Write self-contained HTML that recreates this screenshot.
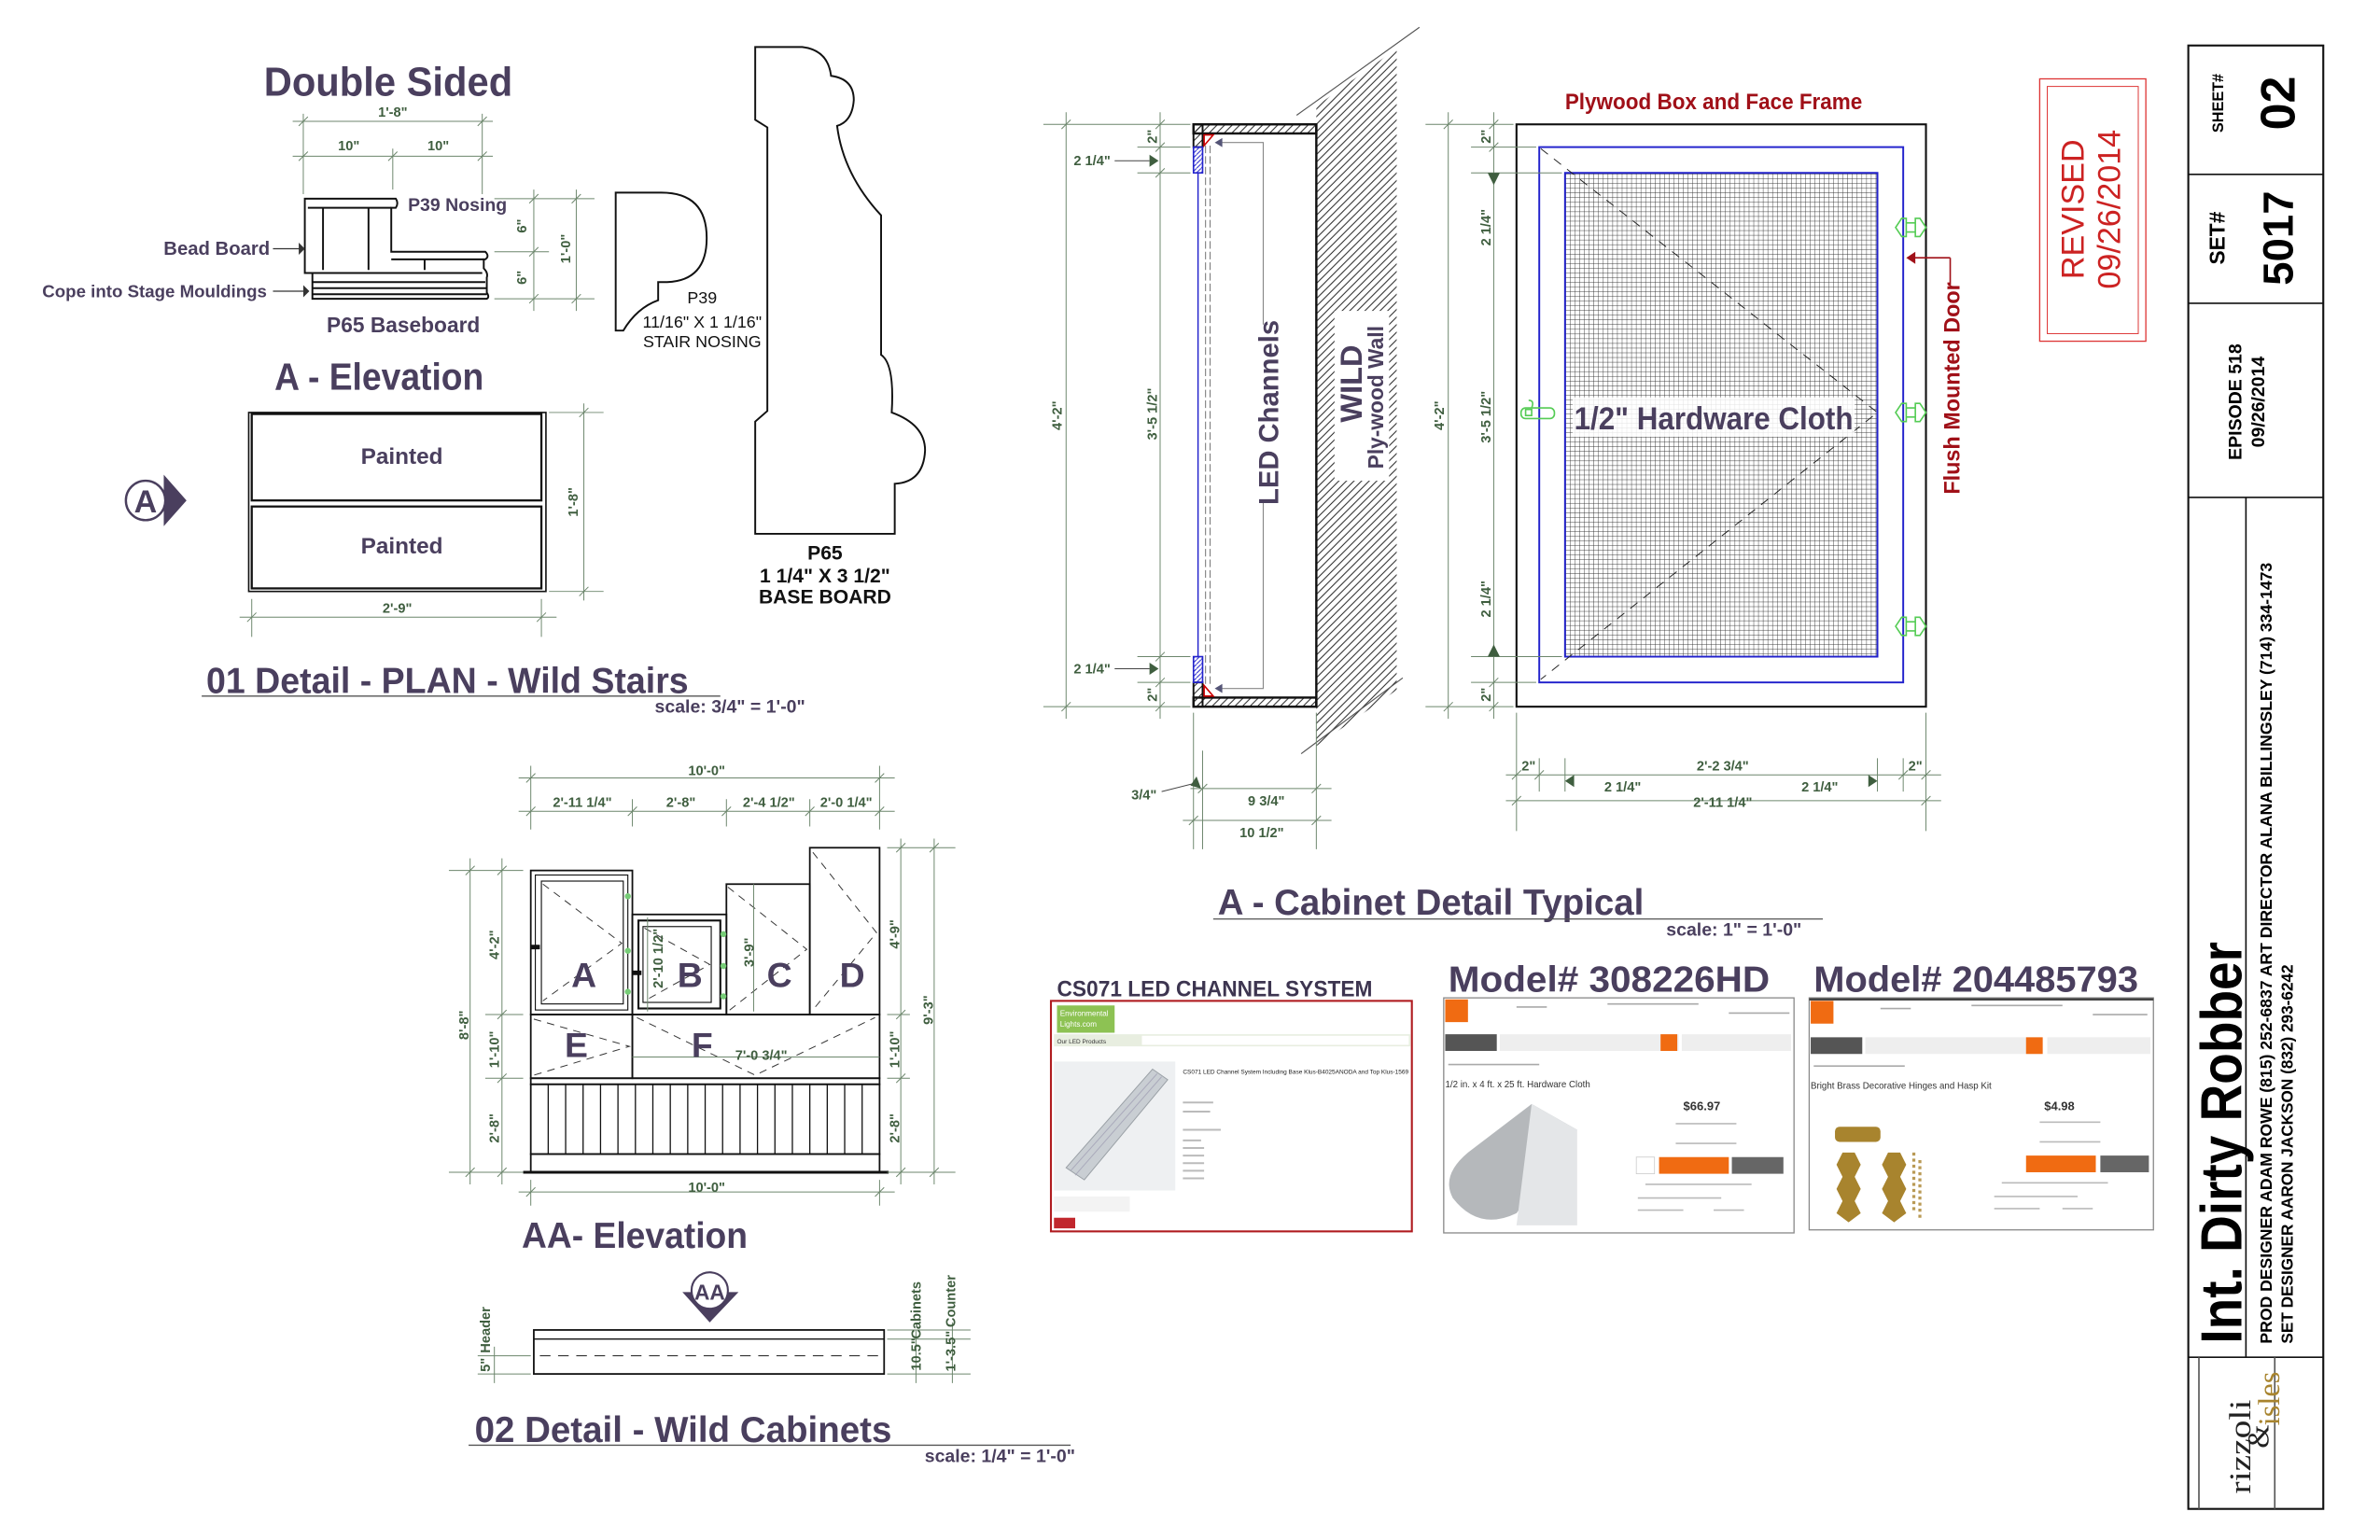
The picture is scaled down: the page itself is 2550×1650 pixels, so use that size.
<!DOCTYPE html>
<html><head><meta charset="utf-8"><style>
html,body{margin:0;padding:0;background:#fff;}
svg{display:block;}
.h{font-family:"Liberation Sans",sans-serif;font-weight:bold;fill:#4a3f5e;}
.d{font-family:"Liberation Sans Narrow","Liberation Sans",sans-serif;fill:#3f5e3f;font-size:9px;font-weight:bold;}
.dl{stroke:#6c866c;stroke-width:0.6;fill:none;}
.k{stroke:#111;fill:none;stroke-width:1.2;}
.a{font-family:"Liberation Sans",sans-serif;fill:#111;}
.n{font-family:"Liberation Sans Narrow","Liberation Sans",sans-serif;}
</style></head><body>
<svg width="2550" height="1650" viewBox="0 0 1569.4 1015.5" preserveAspectRatio="none" xmlns="http://www.w3.org/2000/svg">
<defs>
<pattern id="hatch" patternUnits="userSpaceOnUse" width="5" height="5"><path d="M-1,6 L6,-1 M-1,1 L1,-1 M4,6 L6,4" stroke="#222" stroke-width="0.6"/></pattern>
<pattern id="mesh" patternUnits="userSpaceOnUse" width="3.1" height="3.1"><path d="M0,0 H3.1 M0,0 V3.1" stroke="#333" stroke-width="0.55"/></pattern>
<pattern id="hb" patternUnits="userSpaceOnUse" width="3" height="3"><path d="M-1,4 L4,-1" stroke="#22c" stroke-width="0.6"/></pattern>
</defs>
<rect width="1570" height="1016" fill="#fff"/>

<!-- ===== Section 01 ===== -->
<text class="h" x="256" y="63" font-size="27" text-anchor="middle" textLength="164" lengthAdjust="spacingAndGlyphs">Double Sided</text>
<g class="dl">
<path d="M193,80 H325 M193,103 H325 M200,75 V128 M259,98 V125 M318,75 V128"/>
<path d="M197,83 L203,77 M256,106 L262,100 M315,83 L321,77 M197,106 L203,100 M315,106 L321,100"/>
</g>
<text class="d" x="259" y="77" text-anchor="middle">1'-8"</text>
<text class="d" x="230" y="99" text-anchor="middle">10"</text>
<text class="d" x="289" y="99" text-anchor="middle">10"</text>
<!-- stair -->
<g class="k" stroke-width="1.1">
<path d="M201,176 V131 H261 Q263,134 261,137 H258 V166 H320 Q323,169 320,171 H319 V177 Q322,180 321,183 V193 Q323,196 321,197 H206 V180 H201 Z" fill="#fff"/>
<path d="M206,180 H318 M203,137 H258 M213,137 V178 M243,137 V178 M258,171 H319 M280,171 V178 M206,186 H320 M206,190 H321 M206,194 H321"/>
</g>
<text class="n" x="178" y="168" font-size="12.5" text-anchor="end" fill="#4a3f5e" font-weight="bold">Bead Board</text>
<path d="M180,164 H198" stroke="#333" stroke-width="0.8"/><path d="M197,160 L201,164 L197,168 Z" fill="#333"/>
<text class="n" x="176" y="196" font-size="11.5" text-anchor="end" fill="#4a3f5e" font-weight="bold">Cope into Stage Mouldings</text>
<path d="M180,192 H201" stroke="#333" stroke-width="0.8"/><path d="M200,188 L204,192 L200,196 Z" fill="#333"/>
<text class="n" x="269" y="139" font-size="12" fill="#4a3f5e" font-weight="bold">P39 Nosing</text>
<text class="n" x="266" y="219" font-size="14" text-anchor="middle" fill="#4a3f5e" font-weight="bold">P65 Baseboard</text>
<g class="dl">
<path d="M326,131 H392 M326,166 H362 M326,197 H392 M352,125 V205 M380,125 V205"/>
<path d="M349,134 L355,128 M349,169 L355,163 M349,200 L355,194 M377,134 L383,128 M377,200 L383,194"/>
</g>
<text class="d" transform="translate(347,149) rotate(-90)" text-anchor="middle">6"</text>
<text class="d" transform="translate(347,183) rotate(-90)" text-anchor="middle">6"</text>
<text class="d" transform="translate(376,164) rotate(-90)" text-anchor="middle">1'-0"</text>
<text class="h" x="250" y="257" font-size="25" text-anchor="middle" textLength="138" lengthAdjust="spacingAndGlyphs">A - Elevation</text>
<!-- painted box -->
<rect x="164" y="272" width="196" height="118" fill="none" stroke="#111" stroke-width="1"/>
<rect x="166" y="273" width="191" height="57" fill="none" stroke="#111" stroke-width="1.4"/>
<rect x="166" y="334" width="191" height="54" fill="none" stroke="#111" stroke-width="1.4"/>
<text class="n" x="265" y="306" font-size="15" text-anchor="middle" fill="#4a3f5e" font-weight="bold">Painted</text>
<text class="n" x="265" y="365" font-size="15" text-anchor="middle" fill="#4a3f5e" font-weight="bold">Painted</text>
<g class="dl">
<path d="M362,272 H398 M362,390 H398 M385,266 V396 M158,407 H367 M166,395 V420 M357,395 V420"/>
<path d="M382,275 L388,269 M382,393 L388,387 M163,410 L169,404 M354,410 L360,404"/>
</g>
<text class="d" transform="translate(381,331) rotate(-90)" text-anchor="middle">1'-8"</text>
<text class="d" x="262" y="404" text-anchor="middle">2'-9"</text>
<!-- A marker -->
<path d="M108,313 L123,330 L108,347 Z" fill="#4a3f5e"/>
<circle cx="96" cy="330" r="13" fill="#fff" stroke="#4a3f5e" stroke-width="1.5"/>
<text class="h" x="96" y="338" font-size="21" text-anchor="middle" font-weight="normal">A</text>
<!-- P39 profile -->
<path d="M406,218 V127 H436 Q466,127 466,157 Q466,185 440,186 H434 V198 Q420,203 411,218 Z" class="k" stroke-width="1.2"/>
<text class="a" x="463" y="200" font-size="11" text-anchor="middle">P39</text>
<text class="a" x="463" y="216" font-size="11" text-anchor="middle">11/16" X 1 1/16"</text>
<text class="a" x="463" y="229" font-size="11" text-anchor="middle">STAIR NOSING</text>
<!-- P65 profile -->
<path d="M498,352 V278 L506,271 V84 L498,79 V31 H529 Q546,33 548,50 Q563,52 563,66 Q562,80 552,83 Q556,115 581,142 V234 Q590,240 588,272 Q610,280 610,297 Q609,318 590,319 V352 Z" class="k" stroke-width="1.3"/>
<text class="a" x="544" y="369" font-size="13" text-anchor="middle" font-weight="bold">P65</text>
<text class="a" x="544" y="384" font-size="13" text-anchor="middle" font-weight="bold">1 1/4" X 3 1/2"</text>
<text class="a" x="544" y="398" font-size="13" text-anchor="middle" font-weight="bold">BASE BOARD</text>
<text class="h" x="136" y="457" font-size="24" textLength="318" lengthAdjust="spacingAndGlyphs">01 Detail - PLAN - Wild Stairs</text>
<path d="M133,459 H475" stroke="#555" stroke-width="0.8"/>
<text class="h" x="531" y="470" font-size="12" text-anchor="end">scale: 3/4" = 1'-0"</text>

<!-- ===== Section 02 AA ===== -->
<g class="dl">
<path d="M342,513 H590 M342,535 H590 M350,505 V547 M417,527 V545 M479,527 V545 M534,527 V545 M580,505 V547"/>
<path d="M347,516 L353,510 M577,516 L583,510 M347,538 L353,532 M414,538 L420,532 M476,538 L482,532 M531,538 L537,532 M577,538 L583,532"/>
</g>
<text class="d" x="466" y="511" text-anchor="middle">10'-0"</text>
<text class="d" x="384" y="532" text-anchor="middle">2'-11 1/4"</text>
<text class="d" x="449" y="532" text-anchor="middle">2'-8"</text>
<text class="d" x="507" y="532" text-anchor="middle">2'-4 1/2"</text>
<text class="d" x="558" y="532" text-anchor="middle">2'-0 1/4"</text>
<g stroke="#111" fill="none" stroke-width="1.1">
<rect x="350" y="574" width="67" height="95"/>
<rect x="353" y="577" width="61" height="89" stroke-width="0.7"/>
<rect x="357" y="581" width="54" height="81" stroke-width="0.7"/>
<rect x="417" y="603" width="62" height="66"/>
<rect x="421" y="607" width="54" height="58" stroke-width="1.3"/>
<rect x="424" y="611" width="45" height="50" stroke-width="0.7"/>
<rect x="479" y="583" width="55" height="86"/>
<rect x="534" y="559" width="46" height="110"/>
<rect x="350" y="669" width="67" height="42"/>
<rect x="417" y="669" width="163" height="42"/>
<rect x="350" y="711" width="230" height="4"/>
<rect x="350" y="715" width="230" height="46"/>
<rect x="350" y="761" width="230" height="12"/>
<path d="M345,773 H586" stroke-width="1.8"/>
<path d="M361.5,715 V761 M373,715 V761 M384.5,715 V761 M396,715 V761 M407.5,715 V761 M419,715 V761 M430.5,715 V761 M442,715 V761 M453.5,715 V761 M465,715 V761 M476.5,715 V761 M488,715 V761 M499.5,715 V761 M511,715 V761 M522.5,715 V761 M534,715 V761 M545.5,715 V761 M557,715 V761 M568.5,715 V761" stroke-width="0.8"/>
</g>
<g stroke="#333" stroke-width="0.6" stroke-dasharray="5,4" fill="none">
<path d="M358,583 L410,622 L358,660"/><path d="M425,612 L468,636 L425,660"/>
<path d="M480,585 L532,626 L480,667"/><path d="M536,562 L578,615 L536,666"/>
<path d="M352,672 L415,690 L352,709"/><path d="M420,671 L498,709 L577,671"/>
</g>
<g fill="#7c7" ><circle cx="414" cy="591" r="2"/><circle cx="414" cy="627" r="2"/><circle cx="414" cy="654" r="2"/><circle cx="477" cy="616" r="2"/><circle cx="477" cy="637" r="2"/><circle cx="477" cy="657" r="2"/></g>
<rect x="350" y="623" width="6" height="3" fill="#111"/><rect x="417" y="640" width="6" height="3" fill="#111"/>
<path d="M427,605 V667 M497,583 V667 M417,697 H580" class="dl"/>
<text class="h" x="385" y="651" font-size="23" text-anchor="middle" font-weight="normal">A</text>
<text class="h" x="455" y="651" font-size="23" text-anchor="middle" font-weight="normal">B</text>
<text class="h" x="514" y="651" font-size="23" text-anchor="middle" font-weight="normal">C</text>
<text class="h" x="562" y="651" font-size="23" text-anchor="middle" font-weight="normal">D</text>
<text class="h" x="380" y="697" font-size="23" text-anchor="middle" font-weight="normal">E</text>
<text class="h" x="463" y="697" font-size="23" text-anchor="middle" font-weight="normal">F</text>
<text class="d" x="502" y="699" text-anchor="middle" font-size="10">7'-0 3/4"</text>
<text class="d" transform="translate(497,628) rotate(-90)" text-anchor="middle" font-size="10">3'-9"</text>
<text class="d" transform="translate(437,632) rotate(-90)" text-anchor="middle" font-size="10">2'-10 1/2"</text>
<g class="dl">
<path d="M296,574 H345 M296,773 H345 M320,669 H345 M320,711 H345 M310,566 V781 M331,566 V781"/>
<path d="M307,577 L313,571 M307,776 L313,770 M328,577 L334,571 M328,672 L334,666 M328,714 L334,708 M328,776 L334,770"/>
<path d="M585,559 H630 M585,669 H600 M585,711 H600 M585,773 H630 M594,553 V781 M616,553 V781"/>
<path d="M591,562 L597,556 M591,672 L597,666 M591,714 L597,708 M591,776 L597,770 M613,562 L619,556 M613,776 L619,770"/>
<path d="M342,786 H590 M350,778 V795 M580,778 V795 M347,789 L353,783 M577,789 L583,783"/>
</g>
<text class="d" transform="translate(309,676) rotate(-90)" text-anchor="middle" font-size="10">8'-8"</text>
<text class="d" transform="translate(329,623) rotate(-90)" text-anchor="middle" font-size="10">4'-2"</text>
<text class="d" transform="translate(329,692) rotate(-90)" text-anchor="middle" font-size="10">1'-10"</text>
<text class="d" transform="translate(329,744) rotate(-90)" text-anchor="middle" font-size="10">2'-8"</text>
<text class="d" transform="translate(593,616) rotate(-90)" text-anchor="middle" font-size="10">4'-9"</text>
<text class="d" transform="translate(593,692) rotate(-90)" text-anchor="middle" font-size="10">1'-10"</text>
<text class="d" transform="translate(593,744) rotate(-90)" text-anchor="middle" font-size="10">2'-8"</text>
<text class="d" transform="translate(615,666) rotate(-90)" text-anchor="middle" font-size="10">9'-3"</text>
<text class="d" x="466" y="786" text-anchor="middle" font-size="10">10'-0"</text>
<text class="h" x="344" y="823" font-size="24" textLength="149" lengthAdjust="spacingAndGlyphs">AA- Elevation</text>
<path d="M450,852 L487,852 L468,872 Z" fill="#4a3f5e"/>
<circle cx="468" cy="851" r="12" fill="#fff" stroke="#4a3f5e" stroke-width="1.3"/>
<text class="h" x="468" y="857" font-size="14" text-anchor="middle" font-weight="normal">AA</text>
<rect x="352" y="877" width="231" height="29" fill="none" stroke="#111" stroke-width="1.1"/>
<path d="M352,883 H583" stroke="#111" stroke-width="0.8"/>
<path d="M356,894 H580" stroke="#333" stroke-width="0.7" stroke-dasharray="7,5"/>
<g class="dl">
<path d="M315,894 H350 M315,906 H350 M326,888 V912 M585,883 H640 M585,906 H640 M585,877 H640 M604,877 V912 M628,872 V912"/>
</g>
<text class="d" transform="translate(323,900) rotate(-90)" text-anchor="middle" font-size="9">5"</text>
<text class="d" transform="translate(323,877) rotate(-90)" text-anchor="middle" font-size="8.5">Header</text>
<text class="d" transform="translate(607,893) rotate(-90)" text-anchor="middle" font-size="9">10.5"</text>
<text class="d" transform="translate(607,864) rotate(-90)" text-anchor="middle" font-size="8.5">Cabinets</text>
<text class="d" transform="translate(630,891) rotate(-90)" text-anchor="middle" font-size="9">1'-3.5"</text>
<text class="d" transform="translate(630,858) rotate(-90)" text-anchor="middle" font-size="8.5">Counter</text>
<text class="h" x="313" y="951" font-size="24" textLength="275" lengthAdjust="spacingAndGlyphs">02 Detail - Wild Cabinets</text>
<path d="M309,953 H706" stroke="#555" stroke-width="0.8"/>
<text class="h" x="709" y="964" font-size="12" text-anchor="end">scale: 1/4" = 1'-0"</text>

<!-- ===== Cabinet section ===== -->
<polygon points="868,70 921,32 921,455 868,492" fill="url(#hatch)"/>
<path d="M855,76 L936,18 M858,497 L925,447" stroke="#555" stroke-width="0.7"/>
<rect x="787" y="82" width="81" height="6" fill="url(#hatch)" stroke="#111" stroke-width="1.5"/>
<rect x="787" y="460" width="81" height="6" fill="url(#hatch)" stroke="#111" stroke-width="1.5"/>
<path d="M868,82 V466" stroke="#111" stroke-width="1.5"/>
<rect x="787" y="82" width="6" height="15" fill="url(#hatch)" stroke="#111" stroke-width="1.2"/>
<rect x="787" y="450" width="6" height="16" fill="url(#hatch)" stroke="#111" stroke-width="1.2"/>
<rect x="787" y="97" width="6" height="17" fill="url(#hb)" stroke="#22c" stroke-width="1"/>
<rect x="787" y="433" width="6" height="17" fill="url(#hb)" stroke="#22c" stroke-width="1"/>
<path d="M790,114 V433" stroke="#22c" stroke-width="0.9"/>
<path d="M795,96 V452 M798,96 V452" stroke="#555" stroke-width="0.5" stroke-dasharray="5,2"/>
<path d="M794,89 L800,89 L794,96 Z M794,459 L800,459 L794,452 Z" fill="#fff" stroke="#c00" stroke-width="1"/>
<path d="M803,94 H833 V454 H803" fill="none" stroke="#888" stroke-width="0.7"/>
<path d="M801,94 L806,91 L806,97 Z M801,454 L806,451 L806,457 Z" fill="#557"/>
<rect x="826" y="214" width="18" height="116" fill="#fff"/>
<text class="h" transform="translate(843,272) rotate(-90)" font-size="18" text-anchor="middle">LED Channels</text>
<rect x="880" y="205" width="36" height="112" fill="#fff"/>
<text class="h" transform="translate(898,253) rotate(-90)" font-size="20" text-anchor="middle">WILD</text>
<text class="h" transform="translate(912,262) rotate(-90)" font-size="14" text-anchor="middle">Ply-wood Wall</text>
<g class="dl">
<path d="M688,82 H785 M688,466 H785 M750,97 H785 M750,114 H785 M750,433 H785 M750,450 H785 M703,74 V474 M765,74 V474"/>
<path d="M700,85 L706,79 M700,469 L706,463 M762,85 L768,79 M762,100 L768,94 M762,117 L768,111 M762,436 L768,430 M762,453 L768,447 M762,469 L768,463"/>
<path d="M787,470 V560 M793,495 V560 M868,470 V560 M785,520 H878 M780,541 H878 M790,523 L796,517 M865,523 L871,517 M784,544 L790,538 M865,544 L871,538"/>
<path d="M735,106 H758 M735,441 H758 M766,522 L790,516" stroke="#444"/>
</g>
<path d="M758,102 L764,106 L758,110 Z M758,437 L764,441 L758,445 Z M789,512 L792,520 L785,518 Z" fill="#3f5e3f"/>
<text class="d" transform="translate(700,274) rotate(-90)" text-anchor="middle">4'-2"</text>
<text class="d" transform="translate(763,90) rotate(-90)" text-anchor="middle">2"</text>
<text class="d" transform="translate(763,273) rotate(-90)" text-anchor="middle">3'-5 1/2"</text>
<text class="d" transform="translate(763,458) rotate(-90)" text-anchor="middle">2"</text>
<text class="d" x="708" y="109">2 1/4"</text>
<text class="d" x="708" y="444">2 1/4"</text>
<text class="d" x="746" y="527">3/4"</text>
<text class="d" x="835" y="531" text-anchor="middle">9 3/4"</text>
<text class="d" x="832" y="552" text-anchor="middle">10 1/2"</text>

<!-- right elevation -->
<text x="1130" y="72" font-family="Liberation Sans,sans-serif" font-weight="bold" font-size="15" fill="#a01018" text-anchor="middle" textLength="196" lengthAdjust="spacingAndGlyphs">Plywood Box and Face Frame</text>
<rect x="1000" y="82" width="270" height="384" fill="none" stroke="#111" stroke-width="1.3"/>
<rect x="1015" y="97" width="240" height="353" fill="none" stroke="#22c" stroke-width="1.2"/>
<rect x="1032" y="114" width="206" height="319" fill="url(#mesh)" stroke="#22c" stroke-width="1.2"/>
<path d="M1016,98 L1238,272 L1016,448" fill="none" stroke="#222" stroke-width="0.6" stroke-dasharray="6,5"/>
<rect x="1037" y="262" width="186" height="26" fill="#fff" opacity="0.85"/>
<text class="h" x="1130" y="283" font-size="21" text-anchor="middle" textLength="184" lengthAdjust="spacingAndGlyphs">1/2" Hardware Cloth</text>
<g fill="none" stroke="#5c5" stroke-width="1">
<path d="M1250,150 l4,-6 h3 v12 h-3 z M1270,150 l-4,-6 h-3 v12 h3 z M1257,147 h6 M1257,153 h6"/>
<path d="M1250,272 l4,-6 h3 v12 h-3 z M1270,272 l-4,-6 h-3 v12 h3 z M1257,269 h6 M1257,275 h6"/>
<path d="M1250,413 l4,-6 h3 v12 h-3 z M1270,413 l-4,-6 h-3 v12 h3 z M1257,410 h6 M1257,416 h6"/>
<rect x="1003" y="269" width="22" height="7" rx="3"/><rect x="1006" y="270" width="4" height="4"/><path d="M1010,269 q2,-5 -2,-5"/>
</g>
<path d="M1286,170 H1258 M1286,170 V188" stroke="#a01018" stroke-width="1"/>
<path d="M1257,170 L1263,166 L1263,174 Z" fill="#a01018"/>
<text transform="translate(1292,256) rotate(-90)" font-family="Liberation Sans,sans-serif" font-weight="bold" font-size="15" fill="#a01018" text-anchor="middle" textLength="140" lengthAdjust="spacingAndGlyphs">Flush Mounted Door</text>
<g class="dl">
<path d="M940,82 H998 M940,466 H998 M970,97 H1013 M970,114 H1030 M970,433 H1030 M970,450 H1013 M955,74 V474 M985,74 V474"/>
<path d="M952,85 L958,79 M952,469 L958,463 M982,85 L988,79 M982,100 L988,94 M982,453 L988,447 M982,469 L988,463"/>
<path d="M1000,470 V548 M1015,500 V522 M1032,500 V522 M1238,500 V522 M1255,500 V522 M1270,470 V548 M993,511 H1280 M993,528 H1280"/>
<path d="M997,514 L1003,508 M1012,514 L1018,508 M1252,514 L1258,508 M1267,514 L1273,508 M997,531 L1003,525 M1267,531 L1273,525"/>
</g>
<path d="M981,114 L985,122 L989,114 Z M981,433 L985,425 L989,433 Z M1032,515 L1038,511 L1038,519 Z M1238,515 L1232,511 L1232,519 Z" fill="#3f5e3f"/>
<text class="d" transform="translate(952,274) rotate(-90)" text-anchor="middle">4'-2"</text>
<text class="d" transform="translate(983,90) rotate(-90)" text-anchor="middle">2"</text>
<text class="d" transform="translate(983,150) rotate(-90)" text-anchor="middle">2 1/4"</text>
<text class="d" transform="translate(983,275) rotate(-90)" text-anchor="middle">3'-5 1/2"</text>
<text class="d" transform="translate(983,395) rotate(-90)" text-anchor="middle">2 1/4"</text>
<text class="d" transform="translate(983,458) rotate(-90)" text-anchor="middle">2"</text>
<text class="d" x="1008" y="508" text-anchor="middle">2"</text>
<text class="d" x="1136" y="508" text-anchor="middle">2'-2 3/4"</text>
<text class="d" x="1263" y="508" text-anchor="middle">2"</text>
<text class="d" x="1070" y="522" text-anchor="middle">2 1/4"</text>
<text class="d" x="1200" y="522" text-anchor="middle">2 1/4"</text>
<text class="d" x="1136" y="532" text-anchor="middle">2'-11 1/4"</text>
<text class="h" x="803" y="603" font-size="24" textLength="281" lengthAdjust="spacingAndGlyphs">A - Cabinet Detail Typical</text>
<path d="M800,606 H1202" stroke="#555" stroke-width="0.8"/>
<text class="h" x="1188" y="617" font-size="12" text-anchor="end">scale: 1" = 1'-0"</text>

<!-- REVISED stamp -->
<rect x="1345" y="52" width="70" height="173" fill="none" stroke="#d33" stroke-width="0.8"/>
<rect x="1350" y="57" width="60" height="163" fill="none" stroke="#d33" stroke-width="0.6"/>
<text transform="translate(1374,138) rotate(-90)" font-family="Liberation Sans,sans-serif" font-size="21" fill="#c22" text-anchor="middle">REVISED</text>
<text transform="translate(1398,138) rotate(-90)" font-family="Liberation Sans,sans-serif" font-size="21" fill="#c22" text-anchor="middle">09/26/2014</text>

<!-- ===== screenshots ===== -->
<text class="n" x="697" y="657" font-size="15" font-weight="bold" fill="#3d3550" textLength="208" lengthAdjust="spacingAndGlyphs">CS071 LED CHANNEL SYSTEM</text>
<rect x="693" y="660" width="238" height="152" fill="#fff" stroke="#b01c20" stroke-width="1.3"/>
<rect x="697" y="663" width="38" height="18" fill="#8dc253"/>
<text x="699" y="670" font-family="Liberation Sans,sans-serif" font-size="5" fill="#fff">Environmental</text>
<text x="699" y="677" font-family="Liberation Sans,sans-serif" font-size="5" fill="#fff">Lights.com</text>
<rect x="695" y="682" width="235" height="8" fill="#e8eee0"/>
<rect x="753" y="683" width="176" height="6" fill="#fff"/>
<text x="697" y="688" font-family="Liberation Sans,sans-serif" font-size="4" fill="#333">Our LED Products</text>
<rect x="695" y="700" width="80" height="85" fill="#eef0f2"/>
<path d="M703,770 L760,705 L770,712 L715,778 Z" fill="#c9ced3" stroke="#9aa0a6" stroke-width="0.6"/>
<path d="M706,772 L763,708 M709,775 L766,710" stroke="#aab" stroke-width="0.6"/>
<text x="780" y="708" font-family="Liberation Sans,sans-serif" font-size="4" fill="#222">CS071 LED Channel System Including Base Klus-B4025ANODA and Top Klus-1569</text>
<g stroke="#bbb" stroke-width="1.2"><path d="M780,727 h20 M780,733 h18 M780,745 h25 M780,752 h12 M780,757 h14 M780,762 h14 M780,767 h14 M780,772 h14 M780,777 h14"/></g>
<rect x="695" y="803" width="14" height="7" fill="#c1272d"/>
<rect x="695" y="789" width="50" height="10" fill="#f3f3f3"/>

<text class="h" x="955" y="654" font-size="24" font-weight="normal" textLength="212" lengthAdjust="spacingAndGlyphs">Model# 308226HD</text>
<rect x="952" y="658" width="231" height="155" fill="#fff" stroke="#888" stroke-width="0.8"/>
<rect x="953" y="659" width="15" height="15" fill="#f06b12"/>
<rect x="953" y="682" width="34" height="11" fill="#555"/>
<rect x="989" y="682" width="118" height="11" fill="#eee"/><rect x="1095" y="682" width="11" height="11" fill="#f06b12"/>
<rect x="1109" y="682" width="72" height="11" fill="#eee"/>
<g stroke="#aaa" stroke-width="1"><path d="M1000,664 h20 M1060,662 h60 M1140,668 h40 M955,702 h60"/></g>
<text x="953" y="717" font-family="Liberation Sans,sans-serif" font-size="6" fill="#333">1/2 in. x 4 ft. x 25 ft. Hardware Cloth</text>
<path d="M958,790 Q950,775 968,760 L1010,728 L1040,745 L1000,800 Q975,812 958,790 Z" fill="#b5b8bb"/>
<path d="M1010,728 L1040,745 L1040,808 L1000,808 Z" fill="#e4e6e8"/>
<text x="1110" y="732" font-family="Liberation Sans,sans-serif" font-size="8" font-weight="bold" fill="#333">$66.97</text>
<rect x="1094" y="763" width="46" height="11" fill="#f06b12"/>
<rect x="1142" y="763" width="34" height="11" fill="#666"/>
<rect x="1079" y="763" width="12" height="11" fill="#fff" stroke="#ccc" stroke-width="0.5"/>
<g stroke="#bbb" stroke-width="1"><path d="M1105,741 h40 M1105,754 h40 M1085,781 h70 M1080,790 h55 M1080,798 h30 M1130,798 h20"/></g>

<text class="h" x="1196" y="654" font-size="24" font-weight="normal" textLength="214" lengthAdjust="spacingAndGlyphs">Model# 204485793</text>
<rect x="1193" y="658" width="227" height="153" fill="#fff" stroke="#888" stroke-width="0.8"/>
<path d="M1193,659 H1420" stroke="#444" stroke-width="1.5"/>
<rect x="1194" y="660" width="15" height="15" fill="#f06b12"/>
<rect x="1194" y="684" width="34" height="11" fill="#555"/>
<rect x="1230" y="684" width="116" height="11" fill="#eee"/><rect x="1336" y="684" width="11" height="11" fill="#f06b12"/>
<rect x="1350" y="684" width="68" height="11" fill="#eee"/>
<g stroke="#aaa" stroke-width="1"><path d="M1240,665 h20 M1300,663 h60 M1380,669 h36 M1196,703 h60"/></g>
<text x="1194" y="718" font-family="Liberation Sans,sans-serif" font-size="6" fill="#333">Bright Brass Decorative Hinges and Hasp Kit</text>
<g fill="#a8842e">
<rect x="1210" y="743" width="30" height="10" rx="3"/>
<path d="M1215,760 l8,0 l4,8 l-4,8 l4,8 l-4,8 l4,8 l-8,6 l-8,-6 l4,-8 l-4,-8 l4,-8 l-4,-8 z"/>
<path d="M1245,760 l8,0 l4,8 l-4,8 l4,8 l-4,8 l4,8 l-8,6 l-8,-6 l4,-8 l-4,-8 l4,-8 l-4,-8 z"/>
</g>
<path d="M1262,760 v40 M1266,765 v40" stroke="#b99a55" stroke-width="2" stroke-dasharray="2,2"/>
<text x="1348" y="732" font-family="Liberation Sans,sans-serif" font-size="8" font-weight="bold" fill="#333">$4.98</text>
<rect x="1336" y="762" width="46" height="11" fill="#f06b12"/>
<rect x="1385" y="762" width="32" height="11" fill="#666"/>
<g stroke="#bbb" stroke-width="1"><path d="M1345,740 h40 M1345,753 h40 M1320,780 h70 M1315,789 h55 M1315,797 h30 M1360,797 h20"/></g>

<!-- ===== Title block ===== -->
<rect x="1443" y="30" width="89" height="965" fill="none" stroke="#111" stroke-width="1.3"/>
<path d="M1443,115 H1532 M1443,200 H1532 M1443,328 H1532 M1443,895 H1532" stroke="#111" stroke-width="1"/>
<path d="M1481,328 V895" stroke="#111" stroke-width="1"/>
<path d="M1450,895 V995 M1500,895 V995" stroke="#555" stroke-width="1"/>
<text class="n" transform="translate(1466,68) rotate(-90)" font-size="10" font-weight="bold" text-anchor="middle">SHEET#</text>
<text class="n" transform="translate(1513,68) rotate(-90)" font-size="32" font-weight="bold" text-anchor="middle">02</text>
<text class="n" transform="translate(1467,157) rotate(-90)" font-size="14" font-weight="bold" text-anchor="middle">SET#</text>
<text class="n" transform="translate(1512,157) rotate(-90)" font-size="28" font-weight="bold" text-anchor="middle">5017</text>
<text class="n" transform="translate(1478,265) rotate(-90)" font-size="12" font-weight="bold" text-anchor="middle">EPISODE 518</text>
<text class="n" transform="translate(1493,265) rotate(-90)" font-size="12" font-weight="bold" text-anchor="middle">09/26/2014</text>
<text class="n" transform="translate(1478,886) rotate(-90)" font-size="38" font-weight="bold" textLength="265" lengthAdjust="spacingAndGlyphs">Int. Dirty Robber</text>
<text class="n" transform="translate(1498,886) rotate(-90)" font-size="11" font-weight="bold" textLength="515" lengthAdjust="spacingAndGlyphs">PROD DESIGNER ADAM ROWE (815) 252-6837  ART DIRECTOR ALANA BILLINGSLEY (714) 334-1473</text>
<text class="n" transform="translate(1512,886) rotate(-90)" font-size="11" font-weight="bold" textLength="250" lengthAdjust="spacingAndGlyphs">SET DESIGNER AARON JACKSON (832) 293-6242</text>
<text transform="translate(1484,985) rotate(-90)" font-family="Liberation Serif,serif" font-size="20" fill="#222" textLength="62" lengthAdjust="spacingAndGlyphs">rizzoli</text>
<text transform="translate(1496,955) rotate(-90)" font-family="Liberation Serif,serif" font-size="20" fill="#222">&amp;</text>
<text transform="translate(1503,940) rotate(-90)" font-family="Liberation Serif,serif" font-size="20" fill="#a8842e">isles</text>
</svg>
</body></html>
